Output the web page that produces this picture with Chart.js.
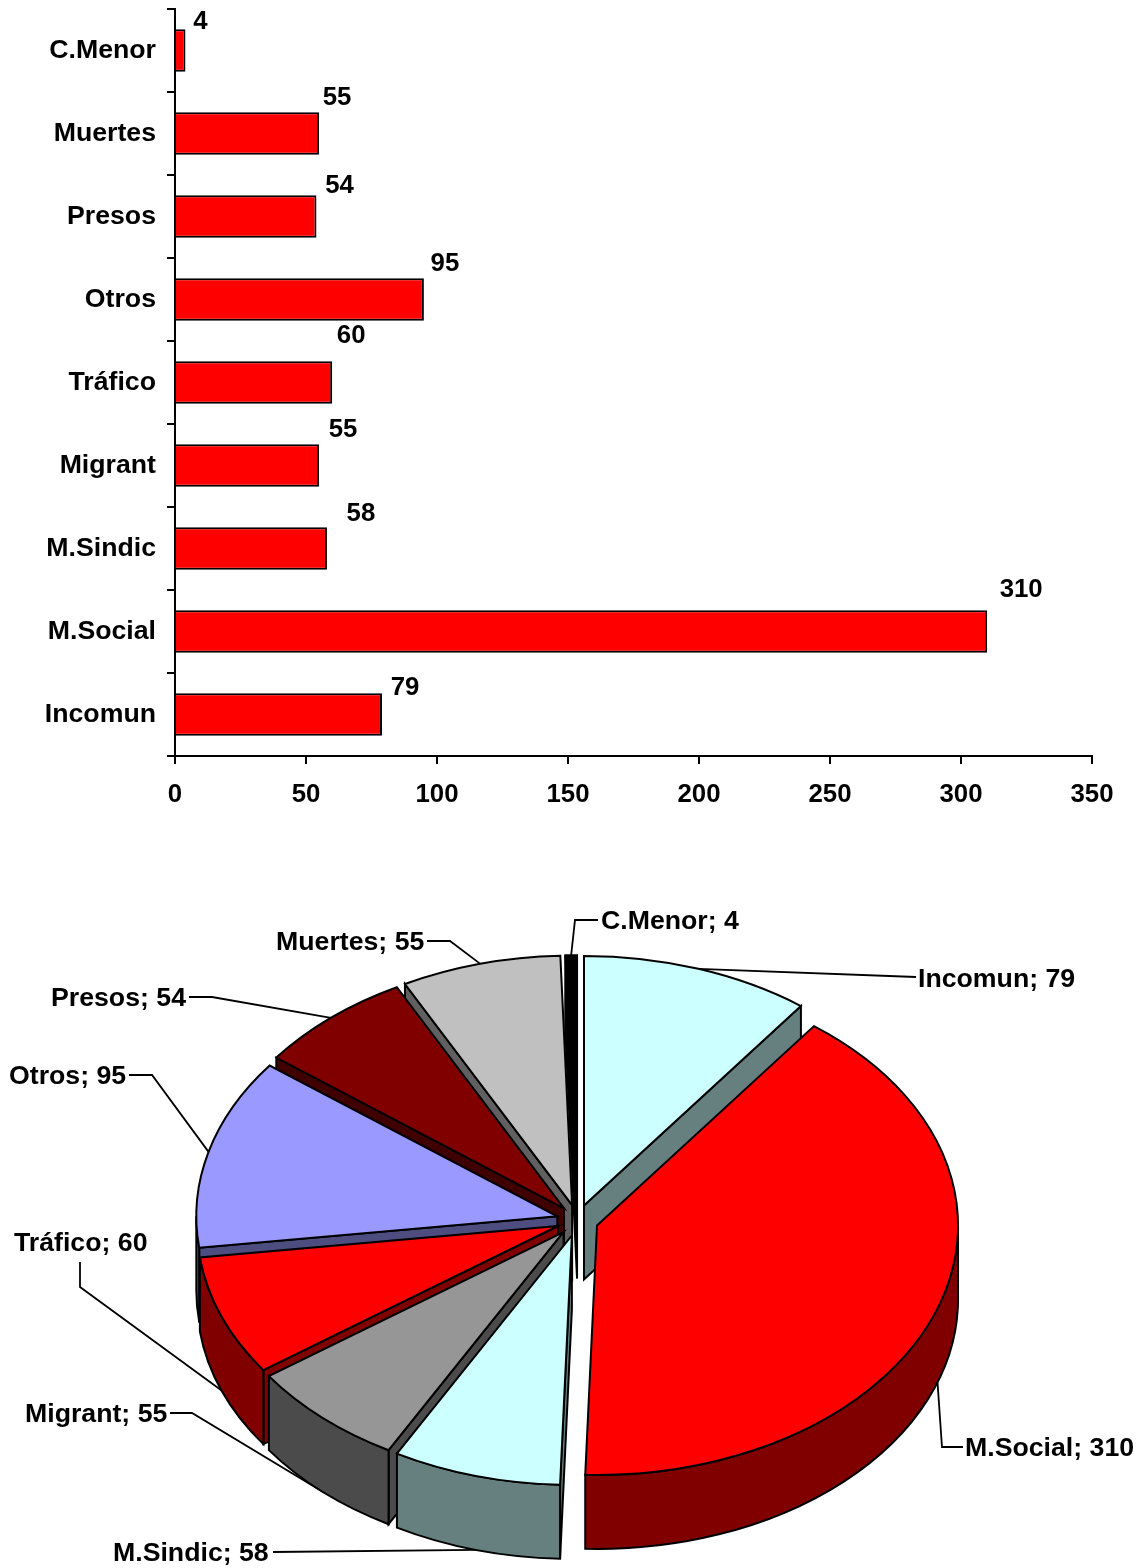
<!DOCTYPE html>
<html>
<head>
<meta charset="utf-8">
<title>Gráficas</title>
<script src="https://cdn.jsdelivr.net/npm/chart.js@4"></script>
<style>
    html, body { margin: 0; padding: 0; background: #fff; overflow: hidden; }
    canvas { display: block; }
</style>
</head>
<body>
<canvas id="graficaBarras" width="1143" height="830"></canvas>
<canvas id="graficaPastel" width="1143" height="738"></canvas>
<script>
// Datos
const categorias = ['Incomun', 'M.Social', 'M.Sindic', 'Migrant', 'Tráfico', 'Otros', 'Presos', 'Muertes', 'C.Menor'];
const valores = [79, 310, 58, 55, 60, 95, 54, 55, 4];
const ticksX = [0, 50, 100, 150, 200, 250, 300, 350];
const coloresPastel = ['#CCFFFF', '#FF0000', '#CCFFFF', '#969696', '#FF0000', '#9999FF', '#800000', '#C0C0C0', '#000000'];
const coloresLateral = ['#668080', '#800000', '#668080', '#4B4B4B', '#800000', '#4D4D80', '#400000', '#606060', '#000000'];

// Colocación de las etiquetas (aparte de los datos)
const ajusteEtiquetaBarra = [[23, -28], [34, -43], [34, -36], [24, -37], [19, -48], [21, -37], [23, -32], [18, -37], [15, -30]];
const etiquetasPastel = [
    { x: 918, y: 978, codo: [] },
    { x: 965, y: 1447, codo: [[963, 1447], [942, 1447]] },
    { x: 113, y: 1552, codo: [[273, 1552]] },
    { x: 25, y: 1413, codo: [[170, 1413], [192, 1413]] },
    { x: 14, y: 1242, codo: [[80, 1262], [80, 1287]] },
    { x: 9, y: 1075, codo: [[129, 1075], [152, 1075]] },
    { x: 51, y: 997, codo: [[189, 997], [212, 997]] },
    { x: 276, y: 941, codo: [[427, 941], [450, 941]] },
    { x: 601, y: 920, codo: [[598, 920], [575, 920]] }
];

const FUENTE_NUMEROS = 'bold 25.8px "Liberation Sans", Arial, sans-serif';
const FUENTE_TEXTOS = 'bold 26.7px "Liberation Sans", Arial, sans-serif';
const INICIO_PASTEL = 830;      // y de la página donde empieza el segundo canvas
const RADIO = 361;
const APLASTADO = 0.691;        // inclinación de la elipse
const ALTO_3D = 74;
const SEPARACION_X = 20.8;
const SEPARACION_Y = 15.7;

const etiquetasBarras = {
    id: 'etiquetasBarras',
    afterDatasetsDraw(chart) {
        const ctx = chart.ctx;
        ctx.save();
        ctx.font = FUENTE_NUMEROS;
        ctx.fillStyle = '#000';
        ctx.textAlign = 'center';
        ctx.textBaseline = 'middle';
        chart.getDatasetMeta(0).data.forEach((barra, i) => {
            ctx.fillText(valores[i], barra.x + ajusteEtiquetaBarra[i][0], barra.y + ajusteEtiquetaBarra[i][1] + 1.5);
        });
        ctx.restore();
    }
};

new Chart(document.getElementById('graficaBarras').getContext('2d'), {
    type: 'bar',
    data: {
        labels: categorias,
        datasets: [{
            data: valores,
            backgroundColor: '#FF0000',
            borderColor: '#000',
            borderWidth: 2,
            categoryPercentage: 1,
            barPercentage: 0.515
        }]
    },
    options: {
        indexAxis: 'y',
        responsive: false,
        animation: false,
        layout: { padding: { top: 9, right: 51, left: 0, bottom: 0 } },
        plugins: { legend: { display: false }, tooltip: { enabled: false } },
        scales: {
            x: {
                min: 0,
                max: 350,
                afterFit(escala) { escala.height = 74; },
                afterBuildTicks(escala) { escala.ticks = ticksX.map(v => ({ value: v })); },
                border: { color: '#000', width: 2 },
                grid: { drawOnChartArea: false, color: '#000', lineWidth: 2, tickLength: 8 },
                ticks: { color: '#000', font: { family: '"Liberation Sans"', size: 25.8, weight: 'bold' }, maxRotation: 0, padding: 15 }
            },
            y: {
                reverse: true,
                afterFit(escala) {
                    escala.width = 175;
                    escala.paddingTop = 0;
                    escala.paddingBottom = 0;
                },
                border: { color: '#000', width: 2 },
                grid: { drawOnChartArea: false, color: '#000', lineWidth: 2, tickLength: 8 },
                ticks: { color: '#000', font: { family: '"Liberation Sans"', size: 26.7, weight: 'bold' }, padding: 11 }
            }
        }
    },
    plugins: [etiquetasBarras]
});

// --- Pastel 3D: la geometría sale de los arcos que calcula Chart.js ---
function centroPorcion(arco) {
    const medio = (arco.startAngle + arco.endAngle) / 2;
    return {
        x: arco.x + Math.cos(medio) * SEPARACION_X,
        y: arco.y + Math.sin(medio) * SEPARACION_Y,
        medio: medio
    };
}

function puntoBorde(c, angulo, radio) {
    return [c.x + Math.cos(angulo) * radio, c.y + Math.sin(angulo) * radio * APLASTADO];
}

function trazarCara(ctx, c, angulo, radio) {
    const p = puntoBorde(c, angulo, radio);
    ctx.beginPath();
    ctx.moveTo(c.x, c.y);
    ctx.lineTo(p[0], p[1]);
    ctx.lineTo(p[0], p[1] + ALTO_3D);
    ctx.lineTo(c.x, c.y + ALTO_3D);
    ctx.closePath();
    ctx.fill();
    ctx.stroke();
}

function dibujarPorcion(ctx, arco, i) {
    const c = centroPorcion(arco);
    const radio = arco.outerRadius;
    const ini = arco.startAngle;
    const fin = arco.endAngle;
    ctx.fillStyle = coloresLateral[i];

    // Caras radiales visibles: la inicial en la mitad izquierda, la final en la derecha
    if (Math.cos(ini) < 0) trazarCara(ctx, c, ini, radio);
    if (Math.cos(fin) > 0) trazarCara(ctx, c, fin, radio);

    // Pared exterior, sólo lo que cae en la mitad de abajo
    const a = Math.max(ini, 0);
    const b = Math.min(fin, Math.PI);
    if (b > a) {
        ctx.beginPath();
        ctx.ellipse(c.x, c.y, radio, radio * APLASTADO, 0, a, b);
        ctx.ellipse(c.x, c.y + ALTO_3D, radio, radio * APLASTADO, 0, b, a, true);
        ctx.closePath();
        ctx.fill();
        ctx.stroke();
    }

    // Cara superior
    ctx.fillStyle = coloresPastel[i];
    ctx.beginPath();
    ctx.moveTo(c.x, c.y);
    ctx.ellipse(c.x, c.y, radio, radio * APLASTADO, 0, ini, fin);
    ctx.closePath();
    ctx.fill();
    ctx.stroke();
}

function dibujarGuias(ctx, arcos) {
    ctx.strokeStyle = '#000';
    ctx.lineWidth = 1.8;
    arcos.forEach((arco, i) => {
        const c = centroPorcion(arco);
        const p = puntoBorde(c, c.medio, arco.outerRadius);
        if (Math.sin(c.medio) > 0) p[1] += ALTO_3D;
        const puntos = etiquetasPastel[i].codo;
        ctx.beginPath();
        if (puntos.length === 0) {
            ctx.moveTo(etiquetasPastel[i].x - 2, etiquetasPastel[i].y - 1 - INICIO_PASTEL);
        } else {
            puntos.forEach((q, j) => {
                if (j === 0) ctx.moveTo(q[0], q[1] - INICIO_PASTEL);
                else ctx.lineTo(q[0], q[1] - INICIO_PASTEL);
            });
        }
        ctx.lineTo(p[0], p[1]);
        ctx.stroke();
    });
}

const pastel3D = {
    id: 'pastel3D',
    // Sustituye el dibujo plano por la versión con volumen
    beforeDatasetDraw(chart) {
        const ctx = chart.ctx;
        const arcos = chart.getDatasetMeta(0).data;
        ctx.save();
        dibujarGuias(ctx, arcos);
        ctx.strokeStyle = '#000';
        ctx.lineWidth = 2;
        ctx.lineJoin = 'miter';
        // De atrás hacia adelante
        const orden = arcos.map((a, i) => i).sort((p, q) => centroPorcion(arcos[p]).y - centroPorcion(arcos[q]).y);
        orden.forEach(i => dibujarPorcion(ctx, arcos[i], i));

        ctx.font = FUENTE_TEXTOS;
        ctx.fillStyle = '#000';
        ctx.textAlign = 'left';
        ctx.textBaseline = 'middle';
        etiquetasPastel.forEach((e, i) => {
            ctx.fillText(categorias[i] + '; ' + valores[i], e.x, e.y - INICIO_PASTEL + 1.5);
        });
        ctx.restore();
        return false;
    }
};

new Chart(document.getElementById('graficaPastel').getContext('2d'), {
    type: 'pie',
    data: {
        labels: categorias,
        datasets: [{ data: valores, backgroundColor: coloresPastel, borderColor: '#000' }]
    },
    options: {
        responsive: false,
        animation: false,
        radius: RADIO,
        layout: { padding: { left: 11.8, right: 0, top: 42.6, bottom: 0 } },
        plugins: { legend: { display: false }, tooltip: { enabled: false } }
    },
    plugins: [pastel3D]
});
</script>
</body>
</html>
